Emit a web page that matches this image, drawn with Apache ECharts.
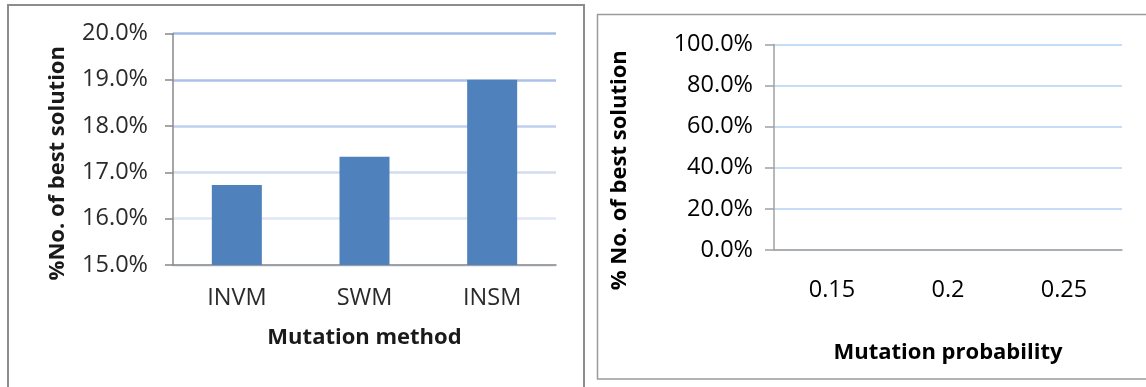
<!DOCTYPE html>
<html>
<head>
<meta charset="utf-8">
<title>Mutation method and probability</title>
<script src="https://cdn.jsdelivr.net/npm/echarts@6/dist/echarts.min.js"></script>
<style>
  html, body { margin: 0; padding: 0; background: #ffffff; }
  #chart { width: 1146px; height: 387px; }
</style>
</head>
<body>
<div id="chart"></div>
<script>
// Mutation method comparison (left panel)
const methodCategories = ['INVM', 'SWM', 'INSM'];
const methodValues = [16.73, 17.34, 19.0];          // % of runs reaching the best solution
const methodAxisTicks = { min: 15, max: 20, interval: 1 };

// Mutation probability comparison (right panel) — no values recorded
const probabilityCategories = ['0.15', '0.2', '0.25'];
const probabilityValues = [];
const probabilityAxisTicks = { min: 0, max: 100, interval: 20 };

const FONT = '"Open Sans", "Noto Sans", sans-serif';
const TICK_SIZE = 23.5;
const TITLE_SIZE = 22;
const pct = v => v.toFixed(1) + '%';

const chart = echarts.init(document.getElementById('chart'), null, { renderer: 'canvas' });

chart.setOption({
  animation: false,
  backgroundColor: '#ffffff',
  textStyle: { fontFamily: FONT },
  graphic: [
    { type: 'rect', z: -1, silent: true,
      shape: { x: 8, y: 5, width: 576, height: 400 },
      style: { fill: 'none', stroke: '#8c8c8c', lineWidth: 2 } },
    { type: 'rect', z: -1, silent: true,
      shape: { x: 597.5, y: 14.5, width: 560, height: 364.5 },
      style: { fill: 'none', stroke: '#9c9c9c', lineWidth: 1.5 } }
  ],
  grid: [
    { left: 173, top: 33.5, width: 383, height: 231.5 },
    { left: 774, top: 44.5, width: 348, height: 205.5 }
  ],
  xAxis: [
    {
      gridIndex: 0, type: 'category', data: methodCategories,
      axisLine: { lineStyle: { color: '#888888', width: 1.5 } },
      axisTick: { length: 8, lineStyle: { color: '#888888', width: 1.5 } },
      axisLabel: { margin: 21, fontSize: TICK_SIZE, color: '#2a2a2a', fontFamily: FONT },
      name: 'Mutation method', nameLocation: 'middle', nameGap: 62,
      nameTextStyle: { fontSize: TITLE_SIZE, fontWeight: 'bold', color: '#1a1a1a', fontFamily: FONT }
    },
    {
      gridIndex: 1, type: 'category', data: probabilityCategories,
      axisLine: { lineStyle: { color: '#a0a0a0', width: 1.5 } },
      axisTick: { length: 8, lineStyle: { color: '#a0a0a0', width: 1.5 } },
      axisLabel: { margin: 28, fontSize: TICK_SIZE, color: '#000000', fontFamily: FONT },
      name: 'Mutation probability', nameLocation: 'middle', nameGap: 92,
      nameTextStyle: { fontSize: TITLE_SIZE, fontWeight: 'bold', color: '#000000', fontFamily: FONT }
    }
  ],
  yAxis: [
    {
      gridIndex: 0, type: 'value',
      min: methodAxisTicks.min, max: methodAxisTicks.max, interval: methodAxisTicks.interval,
      axisLine: { show: true, lineStyle: { color: '#888888', width: 1.5 } },
      axisTick: { show: true, length: 8, lineStyle: { color: '#888888', width: 1.5 } },
      axisLabel: { margin: 25, fontSize: TICK_SIZE, color: '#2a2a2a', fontFamily: FONT, formatter: pct },
      splitLine: { show: true, lineStyle: {
        width: 2.5,
        color: ['#dfe7f5', '#dfe7f5', '#d2ddf2', '#bfcfed', '#abc1e8', '#a4bce6']
      } },
      name: '%No. of best solution', nameLocation: 'middle', nameGap: 104, nameRotate: 90,
      nameTextStyle: { fontSize: TITLE_SIZE, fontWeight: 'bold', color: '#1a1a1a', fontFamily: FONT,
        padding: [0, 28, 0, 0] }
    },
    {
      gridIndex: 1, type: 'value',
      min: probabilityAxisTicks.min, max: probabilityAxisTicks.max, interval: probabilityAxisTicks.interval,
      axisLine: { show: true, lineStyle: { color: '#a0a0a0', width: 1.5 } },
      axisTick: { show: true, length: 9, lineStyle: { color: '#a0a0a0', width: 1.5 } },
      axisLabel: { margin: 21, fontSize: TICK_SIZE, color: '#000000', fontFamily: FONT, formatter: pct },
      splitLine: { show: true, lineStyle: { color: '#c4def7', width: 2 } },
      name: '% No. of best solution', nameLocation: 'middle', nameGap: 143, nameRotate: 90,
      nameTextStyle: { fontSize: TITLE_SIZE, fontWeight: 'bold', color: '#000000', fontFamily: FONT,
        padding: [0, 46, 0, 0] }
    }
  ],
  series: [
    {
      type: 'bar', xAxisIndex: 0, yAxisIndex: 0,
      data: methodValues, barWidth: 50,
      itemStyle: { color: '#4f81bd' }
    },
    {
      type: 'bar', xAxisIndex: 1, yAxisIndex: 1,
      data: probabilityValues, barWidth: 50,
      itemStyle: { color: '#4f81bd' }
    }
  ]
});
</script>
</body>
</html>
